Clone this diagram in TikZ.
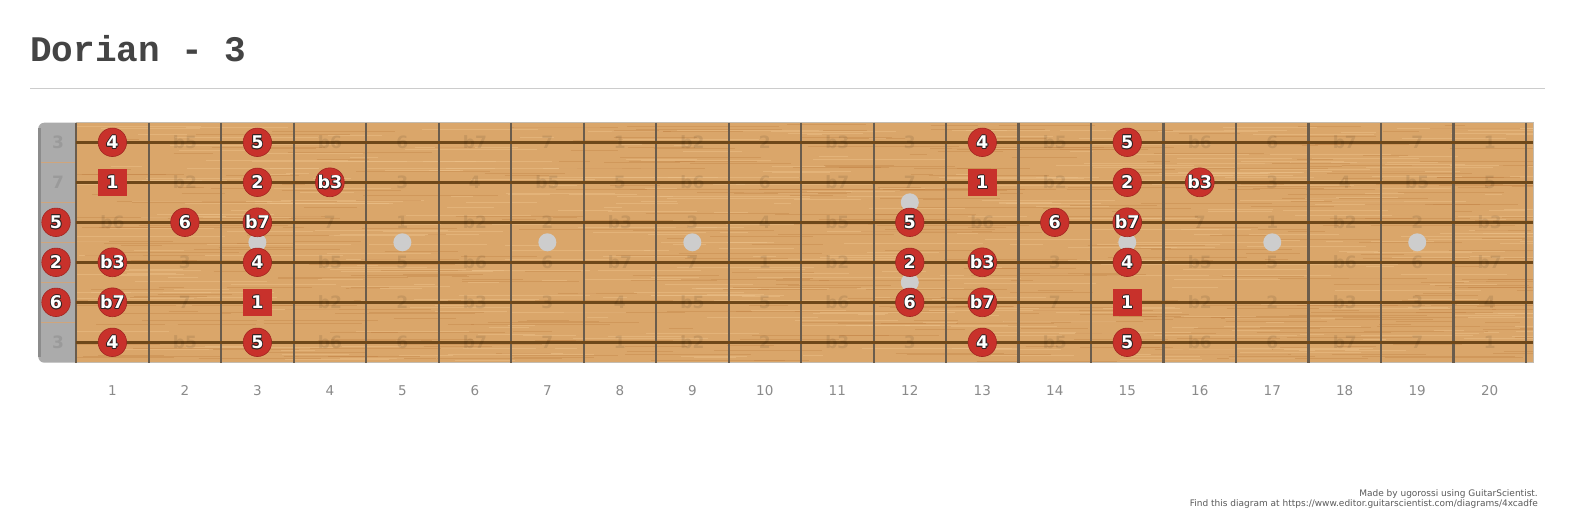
\documentclass[tikz,border=0pt]{standalone}
\usepackage{fontspec}
\setmainfont{DejaVu Sans}
\newfontfamily\titlefont{Liberation Mono}
\usetikzlibrary{calc}
\definecolor{wood}{HTML}{DAA66A}
\definecolor{grainD}{HTML}{BF7E40}
\definecolor{grainL}{HTML}{EEC38D}
\definecolor{stringc}{HTML}{6E481A}
\definecolor{fretc}{HTML}{6A5C4C}
\definecolor{nutc}{HTML}{ABABAB}
\definecolor{nutedge}{HTML}{8C8C8C}
\definecolor{nutsep}{HTML}{CFA57C}
\definecolor{nuttext}{HTML}{9A9A9A}
\definecolor{markred}{HTML}{C8312B}
\definecolor{markedge}{HTML}{A22621}
\definecolor{mkline}{HTML}{2E2222}
\definecolor{dotc}{HTML}{CDCDCD}
\definecolor{titlec}{HTML}{444444}
\definecolor{rulec}{HTML}{CCCCCC}
\definecolor{numc}{HTML}{8A8A8A}
\definecolor{footc}{HTML}{5A5A5A}
\definecolor{boardedge}{HTML}{C4BCB0}
\newcommand\olcopy[3]{\rlap{\hspace*{#1}\raisebox{#2}{\color{mkline}#3}}}
\newcommand\olbl[1]{\olcopy{-.8pt}{0pt}{#1}\olcopy{.8pt}{0pt}{#1}\olcopy{0pt}{.8pt}{#1}\olcopy{0pt}{-.8pt}{#1}\olcopy{-.6pt}{-.6pt}{#1}\olcopy{.6pt}{.6pt}{#1}\olcopy{-.6pt}{.6pt}{#1}\olcopy{.6pt}{-.6pt}{#1}{\color{white}#1}}
\newcommand\ivname[1]{\ifcase#1 1\or b2\or 2\or b3\or 3\or 4\or b5\or 5\or b6\or 6\or b7\or 7\fi}
\tikzset{
  markcirc/.style={circle, fill=markred, draw=markedge, line width=0.6pt, minimum size=28.5pt, inner sep=0pt, font=\fontsize{17.5}{17.5}\selectfont\bfseries},
  marksq/.style={rectangle, fill=markred, minimum width=28.5pt, minimum height=27pt, inner sep=0pt, font=\fontsize{17.5}{17.5}\selectfont\bfseries},
  faint/.style={inner sep=0pt, text=black, text opacity=0.09, font=\fontsize{17}{17}\selectfont\bfseries},
  nutlbl/.style={inner sep=0pt, text=nuttext, font=\fontsize{17}{17}\selectfont\bfseries},
  fretnum/.style={inner sep=0pt, text=numc, anchor=base, font=\fontsize{13.5}{14}\selectfont},
  inlay/.style={circle, fill=dotc, minimum size=18pt, inner sep=0pt},
  foot/.style={inner sep=0pt, text=footc, font=\fontsize{9}{10}\selectfont, anchor=base east},
}
\begin{document}
\begin{tikzpicture}[x=1pt,y=-1pt]
\useasboundingbox (0,0) rectangle (1573,519);
\fill[white] (0,0) rectangle (1573,519);
% title and rule
\node[anchor=base west, inner sep=0pt, text=titlec, font=\titlefont\fontsize{36}{36}\selectfont\bfseries] (title) at (30,61) {Dorian - 3};
\draw[rulec, line width=1pt] (30,88.3) -- (1545,88.3);
% board
\fill[wood] (76,122.7) rectangle (1533,362.7);
\begin{scope}
\clip (76,122.7) rectangle (1533,362.7);
\pgfmathsetseed{12}
\foreach \i in {1,...,900}{
  \pgfmathsetmacro\gx{50+rnd*1490}
  \pgfmathsetmacro\gy{123+rnd*240}
  \pgfmathsetmacro\gl{15+rnd*140}
  \pgfmathsetmacro\gc{rnd}
  \ifdim\gc pt<0.5pt
    \draw[grainD, line width=0.8pt, opacity=0.35] (\gx,\gy) -- ++(\gl,0);
  \else
    \draw[grainL, line width=1pt, opacity=0.45] (\gx,\gy) -- ++(\gl,0);
  \fi
}
\end{scope}
% nut
\fill[nutc] (76,122.7) [rounded corners=6pt] -- (38.3,122.7) -- (38.3,362.7) [sharp corners] -- (76,362.7) -- cycle;
\draw[nutedge, line width=2.5pt] (39.6,128) -- (39.6,357);
\foreach \k in {1,...,5}{
  \draw[nutsep, line width=0.7pt] (41,142.3+\k*40-20) -- (76,142.3+\k*40-20);
}
\draw[boardedge, line width=0.8pt] (76,122.7) -- (1533,122.7) -- (1533,362.7) -- (76,362.7);
% frets
\foreach \n in {0,...,20}{
  \draw[fretc, line width=2.2pt] (76.2+72.49*\n,122.7) -- (76.2+72.49*\n,362.7);
}
% strings
\foreach \s in {1,...,6}{
  \draw[stringc, line width=3pt] (76,142.3+\s*40-40) -- (1533,142.3+\s*40-40);
}
% inlay dots
\foreach \f in {3,5,7,9,15,17,19}{
  \node[inlay] (dot-\f) at (112.4+72.49*\f-72.49,242.3) {};
}
\node[inlay] (dot-12a) at (112.4+72.49*11,202.3) {};
\node[inlay] (dot-12b) at (112.4+72.49*11,282.3) {};
% notes
\foreach \s/\o in {1/4,2/11,3/7,4/2,5/9,6/4}{
  \foreach \f in {0,...,20}{
    \pgfmathtruncatemacro\iv{mod(\o+\f,12)}
    \pgfmathtruncatemacro\insc{(\iv==0)||(\iv==2)||(\iv==3)||(\iv==5)||(\iv==7)||(\iv==9)||(\iv==10)}
    \pgfmathtruncatemacro\inreg{(\f<=4)||((\f>=12)&&(\f<=16))}
    \pgfmathtruncatemacro\mk{\insc*\inreg}
    \pgfmathsetmacro\yy{142.3+(\s-1)*40}
    \ifnum\mk=1
      \pgfmathsetmacro\xx{\f==0 ? 56 : 112.4+(\f-1)*72.49}
      \ifnum\iv=0
        \node[marksq] (m-\s-\f) at (\xx,\yy) {\olbl{\ivname{\iv}}};
      \else
        \node[markcirc] (m-\s-\f) at (\xx,\yy) {\olbl{\ivname{\iv}}};
      \fi
    \else
      \ifnum\f=0
        \node[nutlbl] (b-\s-\f) at (58,\yy) {\ivname{\iv}};
      \else
        \pgfmathsetmacro\xx{112.4+(\f-1)*72.49}
        \node[faint] (b-\s-\f) at (\xx,\yy) {\ivname{\iv}};
      \fi
    \fi
  }
}
% fret numbers
\foreach \n in {1,...,20}{
  \node[fretnum] (fn-\n) at (112.4+72.49*\n-72.49,395) {\n};
}
% footer
\node[foot] (foot1) at (1538,496) {Made by ugorossi using GuitarScientist.};
\node[foot] (foot2) at (1538,506.5) {Find this diagram at https://www.editor.guitarscientist.com/diagrams/4xcadfe};
\end{tikzpicture}
\end{document}
